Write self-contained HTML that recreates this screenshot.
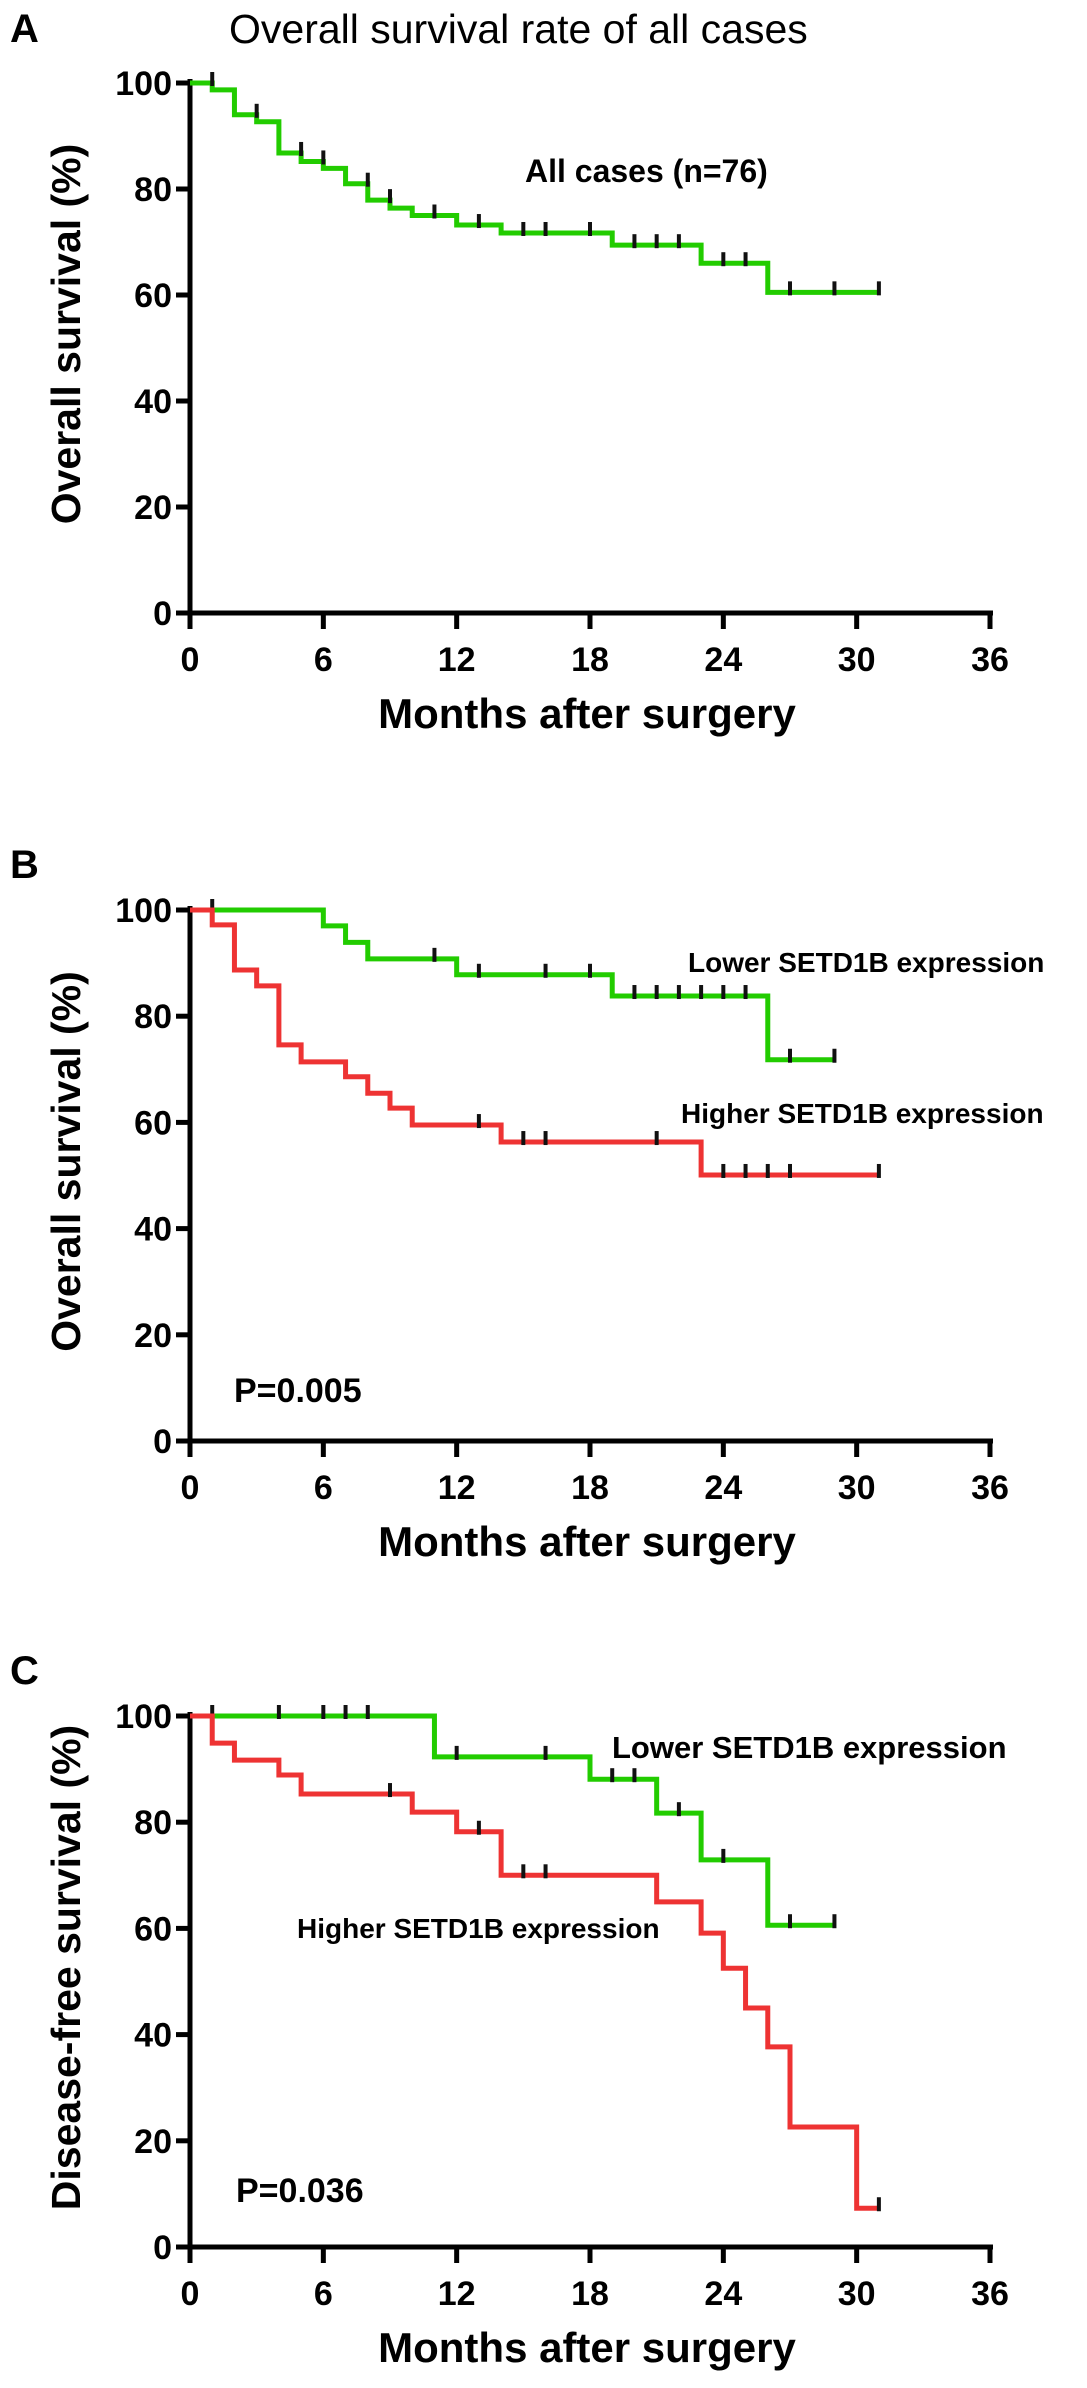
<!DOCTYPE html>
<html><head><meta charset="utf-8"><style>
html,body{margin:0;padding:0;background:#fff;}
svg{display:block;}
text{font-family:"Liberation Sans",Arial,sans-serif;}
</style></head><body>
<svg id="fig" width="1087" height="2388" viewBox="0 0 1087 2388" xmlns="http://www.w3.org/2000/svg"></svg>
<script>
// ---- shared axis ticks ----
const xTicks = [0, 6, 12, 18, 24, 30, 36];
const yTicks = [0, 20, 40, 60, 80, 100];

// ---- Panel A: all cases ----
const aTimes  = [0, 1, 2, 3, 4, 5, 6, 7, 8, 9, 10, 12, 14, 19, 23, 26, 31];
const aValues = [100, 98.7, 94, 92.7, 86.8, 85.2, 83.9, 81, 77.9, 76.4, 75, 73.2, 71.7, 69.4, 66, 60.5, 60.5];
const aCensor = [1, 3, 5, 6, 8, 9, 11, 13, 15, 16, 18, 20, 21, 22, 24, 25, 27, 29, 31];

// ---- Panel B: overall survival by SETD1B ----
const bLowTimes  = [0, 6, 7, 8, 12, 19, 26, 29];
const bLowValues = [100, 97, 93.9, 90.8, 87.8, 83.8, 71.8, 71.8];
const bLowCensor = [1, 11, 13, 16, 18, 20, 21, 22, 23, 24, 25, 27, 29];
const bHighTimes  = [0, 1, 2, 3, 4, 5, 7, 8, 9, 10, 14, 23, 31];
const bHighValues = [100, 97.2, 88.7, 85.7, 74.6, 71.4, 68.6, 65.5, 62.7, 59.5, 56.3, 50.1, 50.1];
const bHighCensor = [13, 15, 16, 21, 24, 25, 26, 27, 31];

// ---- Panel C: disease-free survival by SETD1B ----
const cLowTimes  = [0, 11, 18, 21, 23, 26, 29];
const cLowValues = [100, 92.3, 88.1, 81.7, 72.9, 60.6, 60.6];
const cLowCensor = [1, 4, 6, 7, 8, 12, 16, 19, 20, 22, 24, 27, 29];
const cHighTimes  = [0, 1, 2, 4, 5, 10, 12, 14, 21, 23, 24, 25, 26, 27, 30, 31];
const cHighValues = [100, 94.9, 91.7, 88.9, 85.3, 81.9, 78.2, 70, 65, 59.1, 52.5, 45, 37.7, 22.6, 7.3, 7.3];
const cHighCensor = [9, 13, 15, 16, 31];

const svg = document.getElementById('fig');
const NS = 'http://www.w3.org/2000/svg';
function mk(tag, attrs, parent){
  const e = document.createElementNS(NS, tag);
  for (const k in attrs) e.setAttribute(k, attrs[k]);
  (parent||svg).appendChild(e);
  return e;
}
const X0 = 190, X1 = 990;
function xs(m){ return X0 + (m/36)*(X1-X0); }

function panel(name, top, bottom, yTitle){
  const g = mk('g', {});
  
  
  const ys = v => bottom - (v/100)*(bottom-top);
  const ya = mk('line', {x1:X0, y1:top-4, x2:X0, y2:bottom+2, stroke:'#000','stroke-width':5}, g);
  
  
  const xa = mk('line', {x1:X0-14, y1:bottom, x2:X1+3, y2:bottom, stroke:'#000','stroke-width':5}, g);
  
  
  yTicks.forEach(v => {
    mk('line', {x1:X0-14, y1:ys(v), x2:X0, y2:ys(v), stroke:'#000','stroke-width':5}, g);
    const t = mk('text', {x:X0-18, y:ys(v)+12, 'text-anchor':'end','font-size':34,'font-weight':'bold'}, g);
    
    
    t.textContent = v;
  });
  xTicks.forEach(m => {
    mk('line', {x1:xs(m), y1:bottom, x2:xs(m), y2:bottom+16, stroke:'#000','stroke-width':5}, g);
    const t = mk('text', {x:xs(m), y:bottom+58, 'text-anchor':'middle','font-size':34,'font-weight':'bold'}, g);
    
    
    t.textContent = m;
  });
  const xt = mk('text', {x:587, y:bottom+115, 'text-anchor':'middle','font-size':42,'font-weight':'bold'}, g);
  
  
  xt.textContent = 'Months after surgery';
  const cy = (top+bottom)/2 - 14;
  const yt = mk('text', {x:80, y:cy, 'text-anchor':'middle','font-size':41,'font-weight':'bold', transform:`rotate(-90 80 ${cy})`}, g);
  
  
  yt.textContent = yTitle;
  return {g, ys};
}

function curve(p, times, values, censor, color, name){
  let d = `M${xs(times[0])},${p.ys(values[0])}`;
  for (let i=1;i<times.length;i++){
    d += ` H${xs(times[i])} V${p.ys(values[i])}`;
  }
  const path = mk('path', {d, fill:'none', stroke:color, 'stroke-width':5}, p.g);
  
  
  censor.forEach(c => {
    let v = values[0];
    for (let i=0;i<times.length;i++){ if (times[i] < c) v = values[i]; }
    const y = p.ys(v);
    const tk = mk('line', {x1:xs(c), y1:y-11, x2:xs(c), y2:y+3, stroke:'#111','stroke-width':4}, p.g);
    
    
  });
}

function label(p, x, y, size, txt, name, weight){
  const t = mk('text', {x, y, 'font-size':size, 'font-weight':weight||'bold'}, p.g);
  
  
  t.textContent = txt;
}

// Panel A
const pA = panel('panel-a', 83, 613, 'Overall survival (%)');
curve(pA, aTimes, aValues, aCensor, '#22cc00', 'all-cases-curve');
label(pA, 10, 42, 40, 'A', 'panel-letter-a');
label(pA, 229, 43, 41, 'Overall survival rate of all cases', 'chart-title', 'normal');
label(pA, 525, 182, 32, 'All cases (n=76)', 'all-cases-label');

// Panel B
const pB = panel('panel-b', 910, 1441, 'Overall survival (%)');
curve(pB, bLowTimes, bLowValues, bLowCensor, '#22cc00', 'lower-expression-curve');
curve(pB, bHighTimes, bHighValues, bHighCensor, '#ee3333', 'higher-expression-curve');
label(pB, 10, 878, 40, 'B', 'panel-letter-b');
label(pB, 688, 972, 28, 'Lower SETD1B expression', 'lower-expression-label');
label(pB, 681, 1123, 28, 'Higher SETD1B expression', 'higher-expression-label');
label(pB, 234, 1402, 34, 'P=0.005', 'p-value');

// Panel C
const pC = panel('panel-c', 1716, 2247, 'Disease-free survival (%)');
curve(pC, cLowTimes, cLowValues, cLowCensor, '#22cc00', 'lower-expression-curve');
curve(pC, cHighTimes, cHighValues, cHighCensor, '#ee3333', 'higher-expression-curve');
label(pC, 10, 1684, 40, 'C', 'panel-letter-c');
label(pC, 612, 1758, 31, 'Lower SETD1B expression', 'lower-expression-label');
label(pC, 297, 1938, 28, 'Higher SETD1B expression', 'higher-expression-label');
label(pC, 236, 2202, 34, 'P=0.036', 'p-value');
</script>
</body></html>
